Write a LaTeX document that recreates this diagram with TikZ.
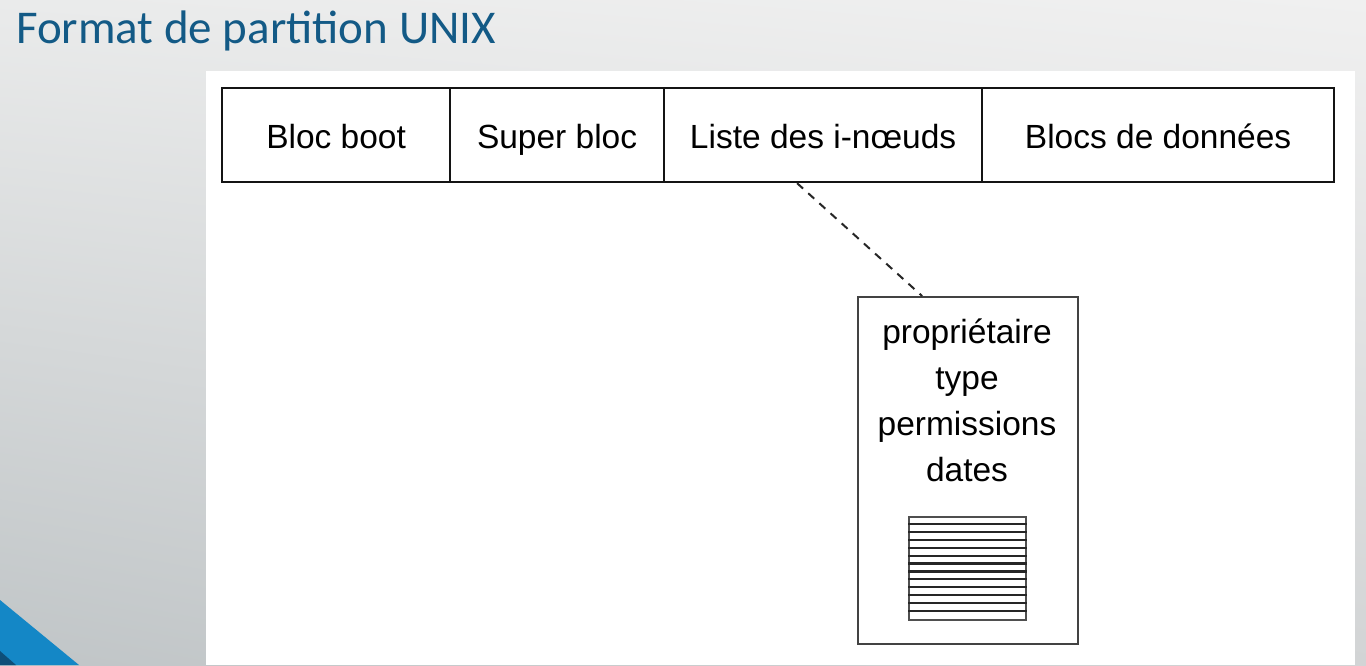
\documentclass[tikz,border=0pt]{standalone}
\usepackage{fontspec}
\setmainfont{Liberation Sans}
\newfontfamily\titlefont{Carlito}
\usetikzlibrary{calc,shadings}
\definecolor{titleblue}{HTML}{135A86}
\definecolor{cornerblue}{HTML}{1487C6}
\definecolor{cornerdark}{HTML}{0E4E78}
\definecolor{bordergray}{HTML}{141414}
\definecolor{bgul}{RGB}{234,235,235}
\definecolor{bgur}{RGB}{240,240,240}
\definecolor{bgll}{RGB}{192,197,199}
\definecolor{bglr}{RGB}{210,212,213}
\tikzset{
  cell/.style={draw=bordergray, line width=2.2pt, fill=white, inner sep=0pt,
    minimum height=94pt, text height=26pt, text depth=0pt,
    font=\fontsize{33.5}{40}\selectfont, anchor=north west},
  inodebox/.style={draw=bordergray!80!white, line width=2.2pt, fill=white, inner sep=0pt,
    minimum width=220pt, minimum height=347pt, anchor=north west},
  inodetext/.style={align=center, inner sep=0pt, font=\fontsize{33.5}{46}\selectfont},
  stripebox/.style={draw=bordergray!75!white, line width=2.4pt, inner sep=0pt,
    minimum width=117pt, minimum height=103pt, anchor=north west},
  stripe/.style={line width=2.2pt, draw=black!85},
  link/.style={draw=black!85, line width=2pt, dash pattern=on 8pt off 7pt},
}
\begin{document}
\begin{tikzpicture}[x=1pt,y=-1pt]
  \useasboundingbox (0,0) rectangle (1366,665);
  % background
  \shade[upper left=bgul, upper right=bgur, lower left=bgll, lower right=bglr]
    (0,0) rectangle (1366,665);
  \fill[cornerblue] (0,600) -- (79,665) -- (0,665) -- cycle;
  \fill[cornerdark] (0,651) -- (16,665) -- (0,665) -- cycle;
  % white panel
  \fill[white] (206,71) rectangle (1355,665);
  % title
  \node[anchor=base west, inner sep=0pt, text=titleblue, font=\titlefont\fontsize{47}{50}\selectfont]
    (title) at (16,43) {Format de partition UNIX};
  % partition cells
  \node[cell, minimum width=228pt] (boot) at (221,87) {Bloc boot};
  \node[cell, minimum width=214pt] (super) at (449,87) {Super bloc};
  \node[cell, minimum width=318pt] (liste) at (663,87) {Liste des i-nœuds};
  \node[cell, minimum width=352pt] (blocs) at (981,87) {Blocs de données};
  % i-node
  \node[inodebox] (inode) at (857,296) {};
  \node[inodetext] (itext) at (967,400) {propriétaire\\type\\permissions\\dates};
  \node[stripebox] (stripes) at (908,516) {};
  \foreach \i in {1,...,12} {
    \draw[stripe] ($(stripes.north west)+(0,\i*7.92)$) -- ($(stripes.north east)+(0,\i*7.92)$);
  }
  % dashed link
  \draw[link] ([xshift=-26pt]liste.south) -- ([xshift=-46pt]inode.north);
\end{tikzpicture}
\end{document}
